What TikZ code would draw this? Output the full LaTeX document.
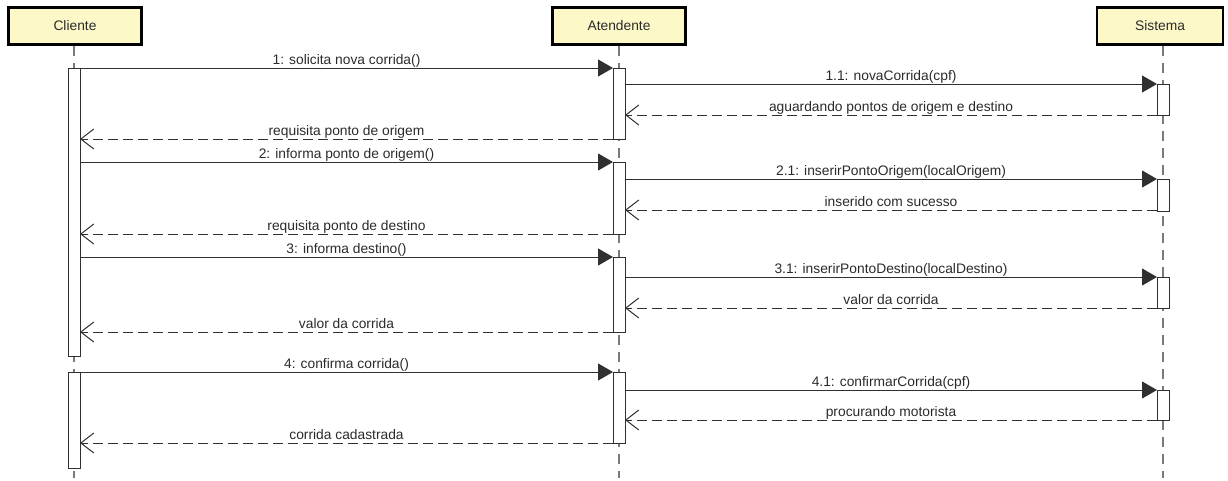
\documentclass[tikz,border=0pt]{standalone}
\usepackage{fontspec}
\setmainfont{Liberation Sans}
\usetikzlibrary{arrows.meta}
\definecolor{hdrfill}{HTML}{FCF8C8}
\definecolor{txt}{HTML}{2A2A2A}
\definecolor{lifeg}{HTML}{7A7A7A}
\definecolor{msgc}{HTML}{303030}
\tikzset{
  header/.style={draw=black, line width=2.6pt, fill=hdrfill, inner sep=0pt, text=txt,
    font=\fontsize{13.8}{16}\selectfont},
  lifeline/.style={draw=lifeg, line width=1.3pt, dash pattern=on 10pt off 7pt},
  actbar/.style={draw=msgc, fill=white, line width=1pt, minimum width=12pt, inner sep=0pt},
  callmsg/.style={draw=msgc, line width=1pt, -{Triangle[length=15pt, width=17pt]}},
  retmsg/.style={draw=msgc, line width=1pt, dash pattern=on 10pt off 5pt,
    -{Straight Barb[length=13pt, width=20pt, line width=1pt]}},
  lbl/.style={anchor=base, yshift=3.8pt, inner sep=0pt, text=txt, font=\fontsize{13.8}{16}\selectfont}
}
\begin{document}
\begin{tikzpicture}[x=1pt, y=-1pt]
\useasboundingbox (0,0) rectangle (1228,480);
% headers
\node[header, minimum width=133pt, minimum height=37pt] (hc) at (75,26) {Cliente};
\node[header, minimum width=133pt, minimum height=37pt] (ha) at (619,26) {Atendente};
\node[header, minimum width=126pt, minimum height=37pt] (hs) at (1160,26) {Sistema};
% lifeline ends
\coordinate (ec) at (74,478);
\coordinate (ea) at (619,478);
\coordinate (es) at (1163,478);
\draw[lifeline] (hc.south -| ec) -- (ec);
\draw[lifeline] (ha.south -| ea) -- (ea);
\draw[lifeline] (hs.south -| es) -- (es);
% activation bars
\node[actbar, minimum height=288pt] (c1) at (74,212) {};
\node[actbar, minimum height=96pt] (c2) at (74,420) {};
\node[actbar, minimum height=71pt] (a1) at (619,103.5) {};
\node[actbar, minimum height=72pt] (a2) at (619,198) {};
\node[actbar, minimum height=75pt] (a3) at (619,294.5) {};
\node[actbar, minimum height=71pt] (a4) at (619,407.5) {};
\node[actbar, minimum height=31pt] (s1) at (1163,99.5) {};
\node[actbar, minimum height=32pt] (s2) at (1163,195) {};
\node[actbar, minimum height=31pt] (s3) at (1163,292.5) {};
\node[actbar, minimum height=30pt] (s4) at (1163,405) {};
% message end points
\coordinate (m1a) at (80,68);   \coordinate (m1b) at (613,68);
\coordinate (m2a) at (625,84);  \coordinate (m2b) at (1157,84);
\coordinate (m3a) at (1157,115);\coordinate (m3b) at (625,115);
\coordinate (m4a) at (613,139); \coordinate (m4b) at (80,139);
\coordinate (m5a) at (80,162);  \coordinate (m5b) at (613,162);
\coordinate (m6a) at (625,179); \coordinate (m6b) at (1157,179);
\coordinate (m7a) at (1157,210);\coordinate (m7b) at (625,210);
\coordinate (m8a) at (613,234); \coordinate (m8b) at (80,234);
\coordinate (m9a) at (80,257);  \coordinate (m9b) at (613,257);
\coordinate (m10a) at (625,277);\coordinate (m10b) at (1157,277);
\coordinate (m11a) at (1157,308);\coordinate (m11b) at (625,308);
\coordinate (m12a) at (613,332);\coordinate (m12b) at (80,332);
\coordinate (m13a) at (80,372); \coordinate (m13b) at (613,372);
\coordinate (m14a) at (625,390);\coordinate (m14b) at (1157,390);
\coordinate (m15a) at (1157,420);\coordinate (m15b) at (625,420);
\coordinate (m16a) at (613,443);\coordinate (m16b) at (80,443);
% messages
\draw[callmsg] (m1a) -- node[lbl]{1: solicita nova corrida()} (m1b);
\draw[callmsg] (m2a) -- node[lbl]{1.1: novaCorrida(cpf)} (m2b);
\draw[retmsg] (m3a) -- node[lbl]{aguardando pontos de origem e destino} (m3b);
\draw[retmsg] (m4a) -- node[lbl]{requisita ponto de origem} (m4b);
\draw[callmsg] (m5a) -- node[lbl]{2: informa ponto de origem()} (m5b);
\draw[callmsg] (m6a) -- node[lbl]{2.1: inserirPontoOrigem(localOrigem)} (m6b);
\draw[retmsg] (m7a) -- node[lbl]{inserido com sucesso} (m7b);
\draw[retmsg] (m8a) -- node[lbl]{requisita ponto de destino} (m8b);
\draw[callmsg] (m9a) -- node[lbl]{3: informa destino()} (m9b);
\draw[callmsg] (m10a) -- node[lbl]{3.1: inserirPontoDestino(localDestino)} (m10b);
\draw[retmsg] (m11a) -- node[lbl]{valor da corrida} (m11b);
\draw[retmsg] (m12a) -- node[lbl]{valor da corrida} (m12b);
\draw[callmsg] (m13a) -- node[lbl]{4: confirma corrida()} (m13b);
\draw[callmsg] (m14a) -- node[lbl]{4.1: confirmarCorrida(cpf)} (m14b);
\draw[retmsg] (m15a) -- node[lbl]{procurando motorista} (m15b);
\draw[retmsg] (m16a) -- node[lbl]{corrida cadastrada} (m16b);
\end{tikzpicture}
\end{document}
